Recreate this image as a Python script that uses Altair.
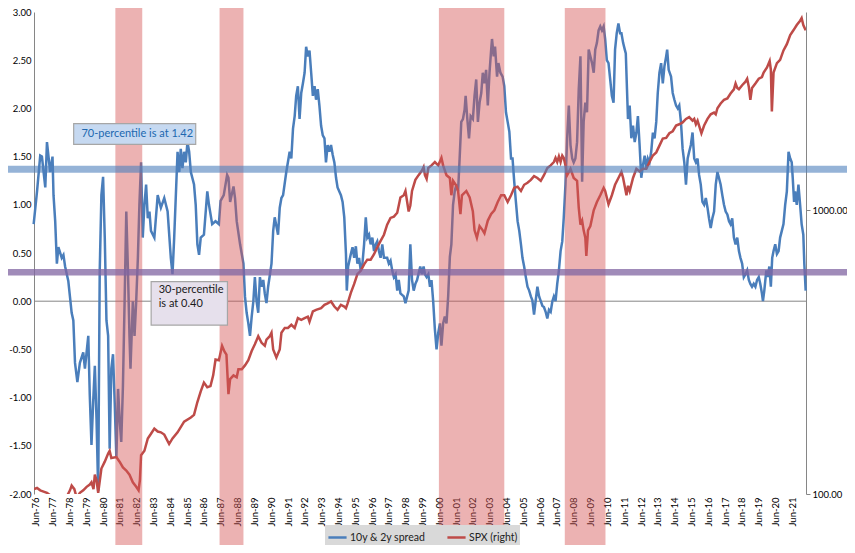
import altair as alt
import pandas as pd
import numpy as np

# ---------------- data ----------------
spread_year = [
    1976.28, 1976.48, 1976.67, 1976.77, 1976.97, 1977.07, 1977.26, 1977.40, 1977.46, 1977.56,
    1977.66, 1977.75, 1977.95, 1978.05, 1978.15, 1978.34, 1978.54, 1978.64, 1978.74, 1978.88,
    1979.03, 1979.23, 1979.33, 1979.53, 1979.62, 1979.72, 1979.82, 1979.92, 1980.02, 1980.12,
    1980.21, 1980.31, 1980.41, 1980.51, 1980.61, 1980.71, 1980.80, 1980.90, 1981.00, 1981.10,
    1981.20, 1981.30, 1981.39, 1981.49, 1981.59, 1981.69, 1981.79, 1981.89, 1981.98, 1982.04,
    1982.18, 1982.28, 1982.38, 1982.48, 1982.57, 1982.67, 1982.77, 1982.87, 1982.97, 1983.07,
    1983.17, 1983.26, 1983.46, 1983.66, 1983.85, 1984.05, 1984.25, 1984.44, 1984.54, 1984.64,
    1984.84, 1984.94, 1985.03, 1985.13, 1985.23, 1985.33, 1985.43, 1985.53, 1985.63, 1985.82,
    1985.92, 1986.02, 1986.12, 1986.22, 1986.41, 1986.61, 1986.71, 1986.90, 1987.10, 1987.30,
    1987.40, 1987.59, 1987.79,
    1987.87, 1987.97, 1988.17, 1988.26, 1988.36, 1988.56, 1988.76, 1988.85, 1988.95, 1989.05,
    1989.15, 1989.25, 1989.35, 1989.44, 1989.54, 1989.64, 1989.74, 1989.84, 1989.94, 1990.03,
    1990.13, 1990.23, 1990.43, 1990.53, 1990.62, 1990.82, 1990.92, 1991.02, 1991.12, 1991.31,
    1991.51, 1991.61, 1991.71, 1991.81, 1991.90, 1992.00, 1992.10, 1992.20, 1992.30, 1992.40,
    1992.49, 1992.59, 1992.69, 1992.79, 1992.89, 1992.99, 1993.08, 1993.18, 1993.28, 1993.38,
    1993.48, 1993.58, 1993.67, 1993.77, 1993.87, 1993.97, 1994.07, 1994.17, 1994.27, 1994.36,
    1994.56, 1994.66, 1994.76, 1994.86, 1994.91, 1994.99, 1995.15, 1995.25, 1995.35, 1995.45,
    1995.54, 1995.64, 1995.74, 1995.84, 1995.94, 1996.04, 1996.13, 1996.23, 1996.33, 1996.43,
    1996.53, 1996.63, 1996.72, 1996.82, 1996.92, 1997.02, 1997.12, 1997.31, 1997.41, 1997.51,
    1997.61, 1997.71, 1997.81, 1997.91, 1998.00, 1998.10, 1998.30, 1998.40, 1998.50, 1998.59,
    1998.69, 1998.79, 1998.89, 1998.99, 1999.09, 1999.28, 1999.38, 1999.48,
    1999.56, 1999.66, 1999.76, 1999.86, 1999.95, 2000.05, 2000.15, 2000.25, 2000.35, 2000.45,
    2000.54, 2000.64, 2000.74, 2000.84, 2000.94, 2001.04, 2001.13, 2001.23, 2001.33, 2001.43,
    2001.53, 2001.63, 2001.72, 2001.82, 2001.92, 2001.98, 2002.08, 2002.18, 2002.28, 2002.41,
    2002.51, 2002.61, 2002.71, 2002.81, 2002.91, 2003.00, 2003.10, 2003.20, 2003.30, 2003.40,
    2003.50, 2003.55, 2003.65, 2003.73, 2003.85, 2003.93, 2004.05, 2004.18, 2004.28, 2004.38,
    2004.48, 2004.58, 2004.68, 2004.77, 2004.87, 2004.97, 2005.07, 2005.17, 2005.27, 2005.36,
    2005.46, 2005.56, 2005.66, 2005.76, 2005.86, 2005.95, 2006.05, 2006.15, 2006.25, 2006.35,
    2006.45, 2006.55, 2006.64, 2006.74, 2006.84, 2006.94, 2007.04, 2007.14, 2007.23, 2007.33,
    2007.43, 2007.53, 2007.63, 2007.73, 2007.82, 2007.92, 2008.02, 2008.12, 2008.22, 2008.32,
    2008.41, 2008.51, 2008.61, 2008.71, 2008.81, 2008.91, 2009.00, 2009.10, 2009.20, 2009.30,
    2009.40, 2009.50, 2009.60, 2009.69, 2009.79, 2009.89, 2009.99, 2010.09, 2010.19, 2010.28,
    2010.38, 2010.48, 2010.58, 2010.68, 2010.78, 2010.87, 2010.97, 2011.07, 2011.17,
    2011.25, 2011.35, 2011.45, 2011.51, 2011.58, 2011.64, 2011.74, 2011.84, 2011.94, 2012.04,
    2012.14, 2012.23, 2012.33, 2012.43, 2012.53, 2012.63, 2012.73, 2012.82, 2012.92, 2013.02,
    2013.12, 2013.22, 2013.32, 2013.41, 2013.51, 2013.61, 2013.71, 2013.81, 2013.91, 2013.97,
    2014.06, 2014.20, 2014.30, 2014.40, 2014.50, 2014.60, 2014.69, 2014.79, 2014.89, 2014.99,
    2015.09, 2015.19, 2015.28, 2015.38, 2015.48, 2015.58, 2015.68, 2015.78, 2015.87, 2015.97,
    2016.07, 2016.17, 2016.27, 2016.37, 2016.46, 2016.56, 2016.66, 2016.76, 2016.86, 2016.96,
    2017.05, 2017.15, 2017.25, 2017.35, 2017.45, 2017.55, 2017.65, 2017.74, 2017.84, 2017.94,
    2018.04, 2018.14, 2018.24, 2018.33, 2018.43, 2018.53, 2018.63, 2018.73, 2018.83, 2018.92,
    2019.02, 2019.12, 2019.22, 2019.32, 2019.42, 2019.51, 2019.61, 2019.67, 2019.75, 2019.87,
    2019.95, 2020.05, 2020.14, 2020.22, 2020.30, 2020.40, 2020.50, 2020.60, 2020.69, 2020.79,
    2020.89, 2020.99, 2021.09, 2021.19, 2021.29, 2021.38, 2021.44, 2021.52, 2021.58, 2021.68,
    2021.78, 2021.88, 2021.97, 2022.07, 2022.13, 2022.21,
]
spread_val = [
    0.80, 1.14, 1.51, 1.50, 1.18, 1.65, 1.34, 1.50, 1.10, 0.83,
    0.39, 0.56, 0.45, 0.48, 0.36, 0.21, -0.12, -0.20, -0.64, -0.84,
    -0.64, -0.53, -0.70, -0.36, -0.98, -1.49, -1.05, -0.67, -1.22, -1.97,
    0.31, 1.10, 1.29, 0.66, -0.20, -0.36, -1.53, -0.70, -0.55, -1.05,
    -1.63, -0.91, -1.22, -1.46, -0.88, 0.00, 0.93, 0.31, -0.36, -0.70,
    0.00, -0.36, 0.00, 0.45, 1.00, 1.44, 0.66, 1.00, 1.21, 0.86,
    0.93, 0.73, 0.66, 1.10, 0.97, 1.07, 0.93, 0.45, 0.28, 0.66,
    1.55, 1.34, 1.58, 1.38, 1.55, 1.44, 1.65, 1.55, 1.34, 1.21,
    1.00, 0.59, 0.48, 0.66, 0.69, 1.14, 1.00, 0.80, 0.83, 0.80,
    1.04, 1.10, 1.31,
    1.28, 1.03, 1.19, 1.07, 0.83, 0.59, 0.39, 0.05, -0.12, -0.23,
    -0.36, -0.16, 0.00, 0.25, 0.00, -0.12, 0.25, 0.15, 0.22, 0.08,
    -0.02, 0.15, 0.39, 0.73, 0.87, 0.69, 0.97, 1.07, 1.10, 1.34,
    1.55, 1.48, 1.79, 1.92, 2.13, 2.23, 1.89, 2.16, 2.26, 2.37,
    2.64, 2.54, 2.60, 2.37, 2.13, 2.23, 2.09, 2.20, 2.03, 1.82,
    1.72, 1.69, 1.44, 1.62, 1.55, 1.62, 1.52, 1.44, 1.28, 1.18,
    1.10, 1.03, 0.87, 0.49, 0.11, 0.36, 0.49, 0.56, 0.45, 0.57,
    0.39, 0.45, 0.32, 0.39, 0.59, 0.87, 0.66, 0.69, 0.59, 0.66,
    0.52, 0.59, 0.62, 0.52, 0.45, 0.59, 0.45, 0.45, 0.39, 0.42,
    0.32, 0.25, 0.28, 0.11, 0.22, 0.08, 0.05, -0.02, 0.05, 0.11,
    0.59, 0.22, 0.11, 0.18, 0.22, 0.36, 0.28, 0.36,
    0.28, 0.25, 0.28, 0.15, 0.22, 0.00, -0.29, -0.50, -0.33, -0.23,
    -0.46, -0.23, -0.16, -0.23, 0.05, 0.46, 0.59, 1.00, 1.14, 1.21,
    1.14, 1.51, 1.86, 1.89, 1.99, 2.13, 1.89, 1.69, 1.92, 1.89,
    2.13, 2.30, 1.86, 2.06, 2.16, 2.37, 2.26, 2.40, 2.03, 2.37,
    2.61, 2.72, 2.54, 2.64, 2.33, 2.47, 2.37, 2.33, 2.23, 1.96,
    1.86, 1.76, 1.48, 1.48, 1.24, 1.03, 0.83, 0.73, 0.59, 0.45,
    0.36, 0.25, 0.15, 0.11, 0.05, 0.01, -0.14, 0.01, 0.15, 0.05,
    0.00, -0.05, -0.06, -0.11, -0.18, -0.09, -0.11, 0.00, 0.05, 0.00,
    0.18, 0.32, 0.52, 0.62, 0.87, 1.21, 1.69, 2.03, 1.62, 1.48,
    1.44, 1.48, 1.65, 2.20, 2.54, 1.24, 1.86, 2.06, 1.96, 2.61,
    2.54, 2.47, 2.37, 2.61, 2.68, 2.81, 2.85, 2.81, 2.85, 2.72,
    2.50, 2.47, 2.30, 2.13, 2.06, 2.61, 2.78, 2.88, 2.78,
    2.78, 2.68, 2.61, 2.57, 2.20, 1.89, 2.03, 1.69, 1.82, 1.65,
    1.75, 1.92, 1.62, 1.28, 1.41, 1.51, 1.38, 1.48, 1.44, 1.55,
    1.75, 1.69, 1.86, 2.16, 2.37, 2.47, 2.26, 2.44, 2.54, 2.61,
    2.40, 2.33, 2.16, 2.09, 2.03, 2.00, 2.03, 1.86, 1.58, 1.44,
    1.21, 1.48, 1.55, 1.62, 1.75, 1.48, 1.44, 1.48, 1.31, 1.21,
    1.03, 1.00, 1.07, 0.97, 0.86, 0.76, 0.86, 0.93, 1.21, 1.34,
    1.28, 1.21, 1.10, 1.00, 0.93, 0.90, 0.83, 0.80, 0.86, 0.66,
    0.59, 0.66, 0.52, 0.45, 0.39, 0.25, 0.28, 0.32, 0.22, 0.18,
    0.15, 0.18, 0.15, 0.22, 0.25, 0.18, 0.08, 0.00, 0.11, 0.32,
    0.25, 0.36, 0.15, 0.45, 0.52, 0.59, 0.49, 0.52, 0.66, 0.73,
    0.80, 1.00, 1.14, 1.55, 1.48, 1.44, 1.28, 1.03, 1.14, 1.00,
    1.21, 1.00, 0.80, 0.69, 0.39, 0.11,
]

spx_year = [
    1976.30, 1976.48, 1976.67, 1976.87, 1977.07, 1977.26, 1977.56, 1977.85, 1978.05, 1978.25,
    1978.44, 1978.54, 1978.70, 1978.84, 1979.03, 1979.23, 1979.43, 1979.62, 1979.72, 1979.84,
    1979.92, 1980.02, 1980.12, 1980.31, 1980.51, 1980.71, 1980.80, 1980.90, 1981.20, 1981.39,
    1981.59, 1981.79, 1981.98, 1982.18, 1982.38, 1982.52, 1982.60, 1982.67, 1982.87, 1983.07,
    1983.26, 1983.46, 1983.66, 1983.85, 1984.05, 1984.34, 1984.54, 1984.84, 1985.23, 1985.63,
    1985.82, 1986.02, 1986.22, 1986.41, 1986.61, 1986.80, 1986.96, 1987.10, 1987.30, 1987.49,
    1987.63, 1987.75, 1987.87, 1987.97,
    1988.17, 1988.36, 1988.46, 1988.66, 1988.85, 1989.05, 1989.25, 1989.44, 1989.64, 1989.84,
    1990.03, 1990.13, 1990.33, 1990.43, 1990.53, 1990.72, 1990.92, 1991.02, 1991.22, 1991.41,
    1991.61, 1991.81, 1992.00, 1992.20, 1992.40, 1992.59, 1992.69, 1992.89, 1993.08, 1993.38,
    1993.58, 1993.77, 1993.97, 1994.17, 1994.36, 1994.56, 1994.76, 1994.86, 1994.96, 1995.15,
    1995.35, 1995.54, 1995.74, 1995.94, 1996.13, 1996.33, 1996.53, 1996.72, 1996.92, 1997.12,
    1997.31, 1997.51, 1997.71, 1997.91, 1998.10, 1998.30, 1998.40, 1998.59, 1998.69, 1998.79,
    1998.99, 1999.18, 1999.38, 1999.48,
    1999.56, 1999.66, 1999.76, 1999.95, 2000.15, 2000.35, 2000.54, 2000.64, 2000.84, 2001.04,
    2001.13, 2001.23, 2001.43, 2001.53, 2001.67, 2001.76, 2002.02, 2002.22, 2002.41, 2002.51,
    2002.65, 2002.81, 2003.00, 2003.10, 2003.30, 2003.50, 2003.69, 2003.89, 2004.09, 2004.28,
    2004.48, 2004.68, 2004.87, 2005.07, 2005.27, 2005.46, 2005.66, 2005.86, 2006.05, 2006.25,
    2006.45, 2006.64, 2006.84, 2007.04, 2007.23, 2007.33, 2007.43, 2007.53, 2007.63, 2007.73,
    2007.82, 2007.92, 2008.02, 2008.22, 2008.41, 2008.61, 2008.71, 2008.81, 2008.91, 2009.00,
    2009.10, 2009.16, 2009.26, 2009.40, 2009.60, 2009.79, 2009.99, 2010.19, 2010.28, 2010.48,
    2010.68, 2010.87, 2011.07,
    2011.25, 2011.35, 2011.55, 2011.64, 2011.74, 2011.94, 2012.14, 2012.33, 2012.53, 2012.73,
    2012.92, 2013.12, 2013.32, 2013.51, 2013.71, 2013.91, 2014.10, 2014.30, 2014.50, 2014.69,
    2014.89, 2015.09, 2015.28, 2015.48, 2015.58, 2015.68, 2015.78, 2015.87, 2016.01, 2016.17,
    2016.37, 2016.56, 2016.76, 2016.86, 2016.96, 2017.15, 2017.35, 2017.55, 2017.74, 2017.94,
    2018.04, 2018.14, 2018.24, 2018.43, 2018.63, 2018.73, 2018.83, 2018.92, 2019.02, 2019.22,
    2019.42, 2019.61, 2019.71, 2019.91, 2020.07, 2020.14, 2020.20, 2020.30, 2020.50, 2020.69,
    2020.89, 2021.09, 2021.29, 2021.48, 2021.68, 2021.88, 2021.97, 2022.07, 2022.21,
]
spx_val = [
    104, 105, 103, 102, 101, 99, 97, 94, 91, 98,
    103, 107, 104, 97, 101, 103, 106, 108, 110, 104,
    117, 112, 101, 123, 130, 139, 142, 134, 135, 130,
    124, 121, 117, 110, 106, 103, 112, 137, 142, 157,
    163, 170, 166, 165, 162, 150, 157, 165, 180, 186,
    190, 211, 230, 247, 238, 240, 262, 298, 296, 333,
    318, 310, 225, 254,
    262, 258, 275, 275, 284, 296, 319, 337, 360, 341,
    333, 350, 360, 370, 323, 303, 323, 370, 385, 385,
    395, 385, 417, 411, 417, 422, 405, 440, 446, 452,
    464, 470, 477, 458, 446, 464, 458, 452, 470, 512,
    550, 596, 612, 645, 670, 670, 700, 740, 780, 820,
    890, 940, 950, 980, 1110, 1130, 1170, 990, 1040, 1170,
    1280, 1330, 1380, 1420,
    1330, 1290, 1410, 1440, 1480, 1440, 1530, 1440, 1330, 1300,
    1130, 1270, 1220, 1170, 970, 1130, 1170, 1110, 990, 850,
    800, 880, 850, 830, 920, 970, 1000, 1070, 1130, 1130,
    1070, 1130, 1200, 1210, 1170, 1230, 1250, 1280, 1320, 1300,
    1270, 1330, 1410, 1440, 1480, 1530, 1480, 1550, 1480, 1560,
    1530, 1440, 1330, 1400, 1300, 1270, 1020, 890, 920, 850,
    800, 690, 850, 880, 1000, 1070, 1130, 1200, 1170, 1050,
    1130, 1230, 1300,
    1365, 1300, 1130, 1220, 1170, 1300, 1400, 1370, 1400, 1400,
    1480, 1560, 1600, 1690, 1790, 1800, 1870, 1900, 1990, 2010,
    2040, 2100, 2130, 2070, 2100, 2010, 2070, 1990, 1870, 1990,
    2100, 2180, 2210, 2180, 2290, 2380, 2450, 2480, 2580, 2670,
    2800, 2700, 2670, 2760, 2840, 2910, 2720, 2450, 2700, 2800,
    2910, 2950, 3060, 3190, 3360, 3130, 2230, 3060, 3300, 3390,
    3660, 3850, 4150, 4310, 4500, 4660, 4760, 4500, 4310,
]

series_names = ["10y & 2y spread", "SPX (right)"]
series_colors = ["#4A7EBB", "#BE4B48"]

shade_start = [1981.14, 1987.34, 2000.39, 2007.88]
shade_end = [1982.74, 1988.76, 2004.28, 2010.30]

pct_levels = [1.37, 0.30]
pct_names = ["70", "30"]

note_text = ["70-percentile is at 1.42", "30-percentile", "is at 0.40"]
note_year = [1979.12, 1983.72, 1983.72]
note_val = [1.737, 0.111, -0.033]
note_color = ["#2068B0", "#1a1a1a", "#1a1a1a"]

box_x1 = [1978.66, 1983.27]
box_x2 = [1985.92, 1987.81]
box_y1 = [1.842, 0.203]
box_y2 = [1.627, -0.248]
box_fill = ["#C6D9F1", "#E6E0EC"]

left_ticks = [-2.0, -1.5, -1.0, -0.5, 0.0, 0.5, 1.0, 1.5, 2.0, 2.5, 3.0]
right_ticks = [100, 1000]
x_tick_years = list(range(1976, 2022))

x_start, x_end = 1976.30, 2022.23


def to_date(y):
    yr = int(np.floor(y))
    frac = y - yr
    a = pd.Timestamp(year=yr, month=1, day=1)
    b = pd.Timestamp(year=yr + 1, month=1, day=1)
    return (a + (b - a) * frac).strftime("%Y-%m-%dT%H:%M:%S")


spread_df = pd.DataFrame({
    "date": [to_date(y) for y in spread_year],
    "val": spread_val,
    "series": series_names[0],
})
spx_df = pd.DataFrame({
    "date": [to_date(y) for y in spx_year],
    "val": spx_val,
    "series": series_names[1],
})
shade_df = pd.DataFrame({
    "start": [to_date(y) for y in shade_start],
    "end": [to_date(y) for y in shade_end],
})
box_df = pd.DataFrame({
    "x1": [to_date(y) for y in box_x1],
    "x2": [to_date(y) for y in box_x2],
    "y1": box_y1, "y2": box_y2, "fill": box_fill,
})
note_df = pd.DataFrame({
    "date": [to_date(y) for y in note_year],
    "val": note_val, "text": note_text, "color": note_color,
})
zero_df = pd.DataFrame({"val": [0.0]})

W, H = 772, 482
FONT = "Lato"
xdomain = [to_date(x_start), to_date(x_end)]
xscale = alt.Scale(domain=xdomain)
yscale = alt.Scale(domain=[-2, 3], nice=False, zero=False)
x_values = [{"year": y, "month": 6, "date": 1} for y in x_tick_years]

color_enc = alt.Color(
    "series:N",
    scale=alt.Scale(domain=series_names, range=series_colors),
    legend=alt.Legend(
        orient="none", legendX=291, legendY=513, direction="horizontal",
        fillColor="#d9d9d9", padding=2, title=None,
        symbolType="stroke", symbolStrokeWidth=2.5, symbolSize=330,
        labelFont=FONT, labelFontSize=10.5, labelColor="#222222",
        columnPadding=16, labelOffset=2,
    ),
)


def x_axis():
    return alt.Axis(
        values=x_values, format="%b-%y", labelAngle=270, labelFlush=False,
        labelOverlap=False, domain=False, ticks=False, grid=False,
        title=None, labelFont=FONT, labelFontSize=9.5, labelColor="#000000",
        labelPadding=3,
    )


spread_line = alt.Chart(spread_df).mark_line(strokeWidth=2.5).encode(
    x=alt.X("date:T", scale=xscale, axis=x_axis()),
    y=alt.Y("val:Q", scale=yscale, axis=alt.Axis(
        orient="left", values=left_ticks, title=None, grid=False, ticks=False,
        domainColor="#868686", labelFont=FONT, labelFontSize=9.5,
        labelColor="#000000", labelPadding=3,
        labelExpr="(datum.value < 0 ? '-' : '') + format(abs(datum.value), '.2f')",
    )),
    color=color_enc,
)

spx_line = alt.Chart(spx_df).mark_line(strokeWidth=2.5, clip=True).encode(
    x=alt.X("date:T", scale=xscale, axis=x_axis()),
    y=alt.Y("val:Q", scale=alt.Scale(type="log", domain=[100, 5000], nice=False),
            axis=alt.Axis(
                orient="right", values=right_ticks, format=".2f", title=None,
                grid=False, ticks=True, tickSize=4, tickColor="#868686",
                domainColor="#868686", labelFont=FONT, labelFontSize=9.5,
                labelColor="#000000", labelPadding=2)),
    color=color_enc,
)

zero_rule = alt.Chart(zero_df).mark_rule(color="#868686", strokeWidth=1).encode(
    y=alt.Y("val:Q", scale=yscale, axis=None),
)

shades = alt.Chart(shade_df).mark_rect(color="#D55454", opacity=0.45).encode(
    x=alt.X("start:T", scale=xscale, axis=x_axis()),
    x2="end:T",
    y=alt.value(-20),
    y2=alt.value(H + 80),
)

pct_df = pd.DataFrame({"val": pct_levels, "name": pct_names})
pct70 = alt.Chart(pct_df[pct_df.name == "70"]).mark_rule(
    color="#4F81BD", opacity=0.6, strokeWidth=7).encode(
    y=alt.Y("val:Q", scale=yscale, axis=None),
    x=alt.value(-40), x2=alt.value(W + 60),
)
pct30 = alt.Chart(pct_df[pct_df.name == "30"]).mark_rule(
    color="#8064A2", opacity=0.75, strokeWidth=6.5).encode(
    y=alt.Y("val:Q", scale=yscale, axis=None),
    x=alt.value(-40), x2=alt.value(W + 60),
)

boxes = alt.Chart(box_df).mark_rect(stroke="#A6A6A6", strokeWidth=1.2).encode(
    x=alt.X("x1:T", scale=xscale, axis=x_axis()),
    x2="x2:T",
    y=alt.Y("y1:Q", scale=yscale, axis=None),
    y2="y2:Q",
    fill=alt.Fill("fill:N", scale=None),
)

notes = alt.Chart(note_df).mark_text(
    align="left", baseline="middle", font=FONT, fontSize=11).encode(
    x=alt.X("date:T", scale=xscale, axis=x_axis()),
    y=alt.Y("val:Q", scale=yscale, axis=None),
    text="text:N",
    color=alt.Color("color:N", scale=None),
)

chart = alt.layer(
    zero_rule, spread_line, spx_line, shades, pct70, pct30, boxes, notes
).resolve_scale(
    y="independent"
).properties(
    width=W, height=H,
    padding={"left": 26, "top": 4, "right": 41, "bottom": 51},
    autosize=alt.AutoSizeParams(type="none"),
    background="white",
).configure_view(
    stroke=None
).configure_axisX(
    labelOverlap=False
)

chart.save("out.html", embed_options={"renderer": "svg", "actions": False})
